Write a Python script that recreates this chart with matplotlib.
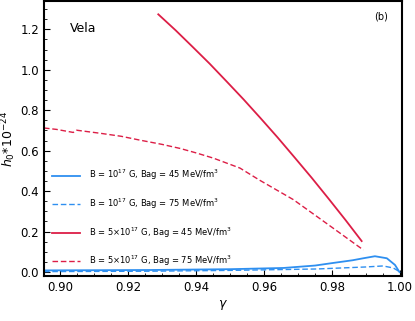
import numpy as np
import matplotlib
matplotlib.use('Agg')
import matplotlib.pyplot as plt
from matplotlib.ticker import MultipleLocator, FormatStrFormatter

# B = 5e17 G, Bag = 45
g_r45 = [0.9289, 0.9340, 0.9390, 0.9440, 0.9490, 0.9540, 0.9590, 0.9640, 0.9690, 0.9740, 0.9790, 0.9840, 0.9887]
h_r45 = [1.274, 1.195, 1.113, 1.030, 0.942, 0.853, 0.760, 0.665, 0.566, 0.466, 0.362, 0.256, 0.153]

# B = 5e17 G, Bag = 75
g_r75 = [0.8953, 0.8990, 0.9039, 0.9049, 0.9118, 0.9180, 0.9235, 0.9300, 0.9353, 0.9400,
         0.9451, 0.9529, 0.9588, 0.9686, 0.9784, 0.9892]
h_r75 = [0.712, 0.705, 0.690, 0.701, 0.686, 0.671, 0.652, 0.631, 0.611, 0.589,
         0.563, 0.514, 0.453, 0.358, 0.240, 0.109]

# B = 1e17 G, Bag = 45
g_b45 = [0.8953, 0.9265, 0.9500, 0.9657, 0.9750, 0.9804, 0.9860, 0.9892, 0.9926, 0.9961, 0.9985, 0.9998]
h_b45 = [0.008, 0.010, 0.014, 0.020, 0.032, 0.045, 0.058, 0.068, 0.078, 0.068, 0.035, 0.0]

# B = 1e17 G, Bag = 75
g_b75 = [0.8953, 0.9265, 0.9500, 0.9755, 0.9900, 0.9950, 0.9980, 1.0]
h_b75 = [0.002, 0.004, 0.008, 0.015, 0.025, 0.030, 0.020, 0.0]

blue = '#2e8ff0'
red = '#dc1e46'

fig = plt.figure(figsize=(4.15, 3.21), dpi=100)
ax = fig.add_axes([0.106, 0.140, 0.863, 0.857])

ax.plot(g_b45, h_b45, color=blue, lw=1.3, label=r'B = 10$^{17}$ G, Bag = 45 MeV/fm$^3$')
ax.plot(g_b75, h_b75, color=blue, lw=1.0, ls=(0, (4, 2)), label=r'B = 10$^{17}$ G, Bag = 75 MeV/fm$^3$')
ax.plot(g_r45, h_r45, color=red, lw=1.3, label=r'B = 5$\times$10$^{17}$ G, Bag = 45 MeV/fm$^3$')
ax.plot(g_r75, h_r75, color=red, lw=1.0, ls=(0, (4, 2)), label=r'B = 5$\times$10$^{17}$ G, Bag = 75 MeV/fm$^3$')

ax.set_xlim(0.8953, 1.0006)
ax.set_ylim(-0.02, 1.34)
ax.xaxis.set_major_locator(MultipleLocator(0.02))
ax.xaxis.set_minor_locator(MultipleLocator(0.005))
ax.yaxis.set_major_locator(MultipleLocator(0.2))
ax.yaxis.set_minor_locator(MultipleLocator(0.05))
ax.xaxis.set_major_formatter(FormatStrFormatter('%.2f'))
ax.yaxis.set_major_formatter(FormatStrFormatter('%.1f'))
ax.tick_params(which='both', direction='in', labelsize=8.5)
ax.tick_params(which='major', length=4, width=0.8)
ax.tick_params(which='minor', length=2, width=0.6)
for s in ax.spines.values():
    s.set_linewidth(1.5)

ax.set_xlabel(r'$\gamma$', fontsize=9, labelpad=3)
ax.set_ylabel(r'$h_0{*}10^{-24}$', fontsize=9, labelpad=2)

ax.text(0.073, 0.90, 'Vela', transform=ax.transAxes, fontsize=9, va='center')
ax.text(0.94, 0.945, '(b)', transform=ax.transAxes, fontsize=7, va='center', ha='center')

ax.legend(loc='lower left', bbox_to_anchor=(0.0, 0.0), frameon=False, fontsize=6,
          labelspacing=1.7, handlelength=3.4, handletextpad=1.1, borderaxespad=0.55)

fig.savefig('out.png', dpi=100)
